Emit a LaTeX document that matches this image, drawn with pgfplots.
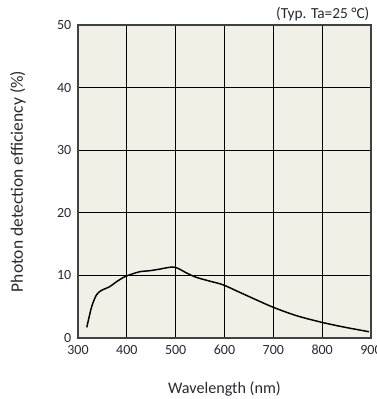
\documentclass[border=0pt]{standalone}
\usepackage{fontspec}
\setmainfont{Carlito}
\usepackage{pgfplots}
\pgfplotsset{compat=1.18}
\definecolor{bgc}{RGB}{242,239,231}
\definecolor{txt}{RGB}{40,40,50}
\begin{document}
\begin{tikzpicture}
\begin{axis}[
  scale only axis,
  width=219.75pt, height=234.75pt,
  xmin=300, xmax=900, ymin=0, ymax=50,
  xtick={300,400,...,900}, ytick={0,10,...,50},
  axis background/.style={fill=bgc},
  grid=major,
  major grid style={black, line width=0.75pt},
  tick style={draw=none},
  axis line style={draw=black!75, line width=1pt},
  /pgf/number format/assume math mode=true,
  ticklabel style={font=\fontsize{10.5}{12}\selectfont, text=txt},
  xticklabel style={yshift=-2pt},
  yticklabel style={xshift=-1.5pt},
  xlabel={Wavelength (nm)},
  ylabel={Photon detection efficiency (\%)},
  xlabel style={at={(axis description cs:0.5,-0.163)}, anchor=center, font=\fontsize{12.1}{14}\selectfont, text=txt},
  ylabel style={at={(axis description cs:-0.205,0.5)}, anchor=center, font=\fontsize{13.1}{15}\selectfont, text=txt},
  clip=false,
]
\addplot[black, line width=1.1pt, smooth, tension=0.5] coordinates {
(318,1.7) (328,5.0) (338,6.9) (348,7.6) (365,8.2) (379,9.0) (396,9.8)
(410,10.2) (427,10.6) (447,10.75) (467,11.0) (488,11.3) (498,11.3)
(508,11.0) (522,10.4) (542,9.7) (569,9.1) (597,8.5) (631,7.3)
(665,6.1) (700,4.9) (746,3.6) (794,2.6) (841,1.8) (896,1.0)
};
\node[anchor=south east, font=\fontsize{11.5}{13}\selectfont, text=txt, inner sep=0pt] at (rel axis cs:1,1) [xshift=-1pt, yshift=3pt] {(Typ. Ta=25 °C)};
\end{axis}
\pgfresetboundingbox
\path (-58.5pt,-45.75pt) rectangle (223.5pt,253.5pt);
\end{tikzpicture}
\end{document}
